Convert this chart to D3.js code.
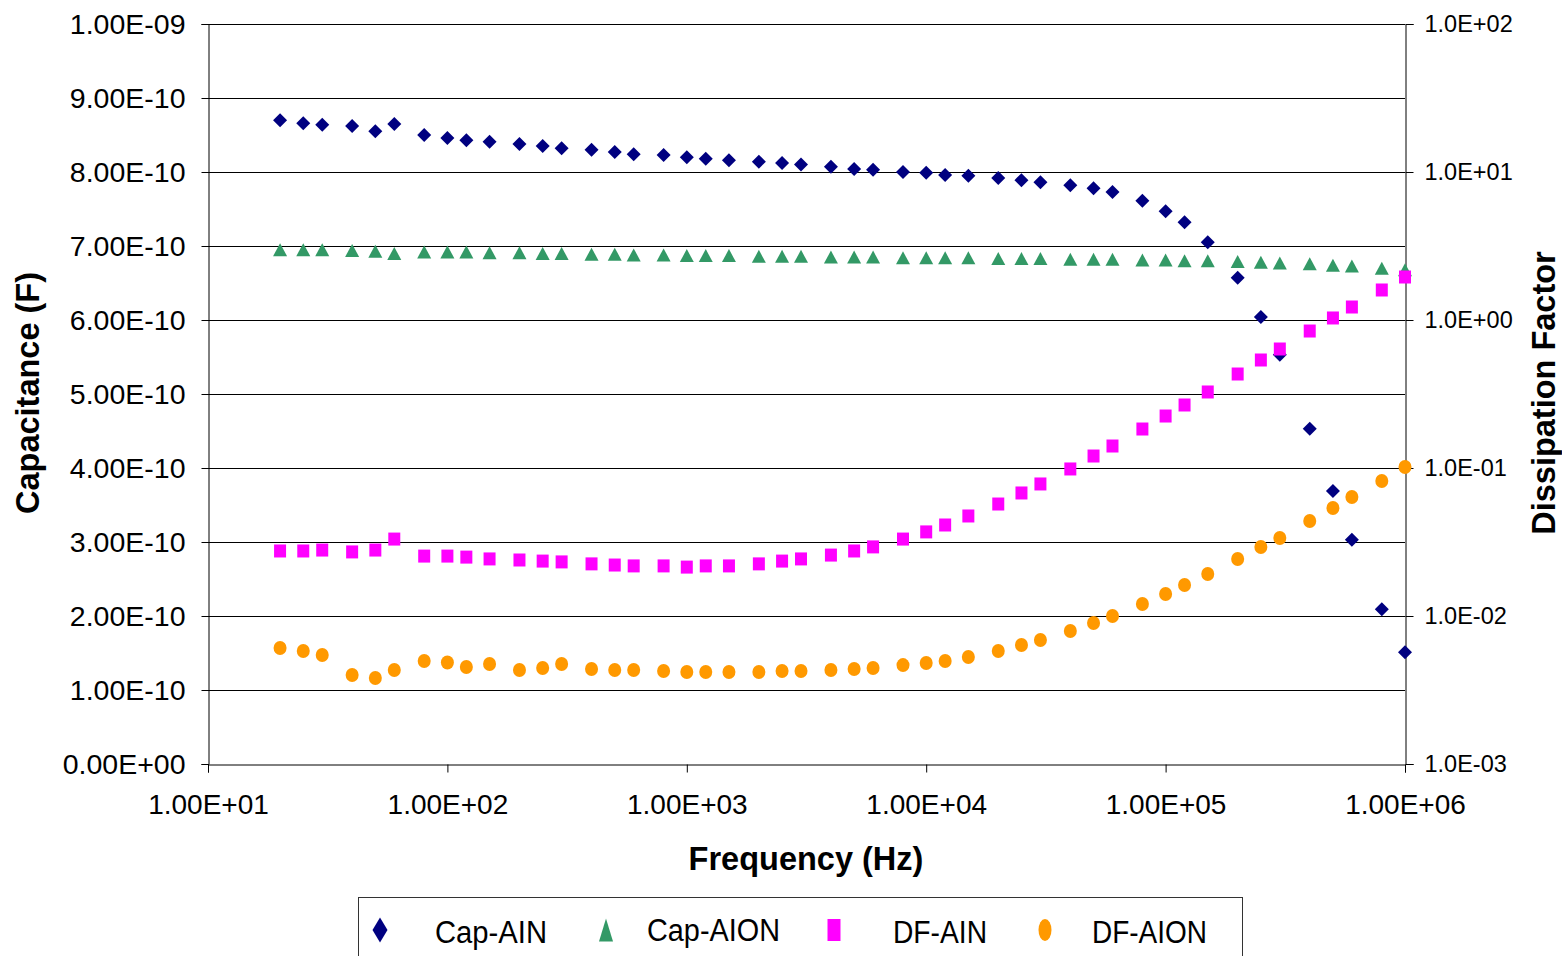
<!DOCTYPE html>
<html>
<head>
<meta charset="utf-8">
<script src="https://cdn.jsdelivr.net/npm/d3@7"></script>
<style>
  body { margin: 0; background: #fff; }
  svg { display: block; font-family: "Liberation Sans", Arial, sans-serif; }
</style>
</head>
<body>
<div id="chart"></div>
<script>
// Capacitance / dissipation factor vs frequency

const freq = [20, 25, 30, 40, 50, 60, 80, 100, 120, 150, 200, 250, 300, 400, 500, 600, 800,
  1000, 1200, 1500, 2000, 2500, 3000, 4000, 5000, 6000, 8000,
  10000, 12000, 15000, 20000, 25000, 30000, 40000, 50000, 60000, 80000,
  100000, 120000, 150000, 200000, 250000, 300000, 400000, 500000, 600000, 800000, 1000000];

// capacitance in units of 1e-10 F
const capAIN = [8.70, 8.66, 8.64, 8.62, 8.55, 8.65, 8.50, 8.46, 8.43, 8.41, 8.38, 8.35, 8.32, 8.30, 8.27, 8.24, 8.23,
  8.20, 8.18, 8.16, 8.14, 8.12, 8.10, 8.07, 8.04, 8.03, 8.00,
  7.99, 7.96, 7.95, 7.92, 7.89, 7.86, 7.82, 7.78, 7.73, 7.61,
  7.47, 7.32, 7.05, 6.57, 6.04, 5.53, 4.53, 3.69, 3.03, 2.09, 1.51];

const capAION = [6.95, 6.95, 6.95, 6.94, 6.93, 6.90, 6.92, 6.92, 6.92, 6.91, 6.91, 6.90, 6.90, 6.89, 6.89, 6.88, 6.88,
  6.87, 6.87, 6.87, 6.86, 6.86, 6.86, 6.85, 6.85, 6.85, 6.84,
  6.84, 6.84, 6.84, 6.83, 6.83, 6.83, 6.82, 6.82, 6.82, 6.81,
  6.81, 6.80, 6.80, 6.79, 6.78, 6.77, 6.76, 6.74, 6.73, 6.70, 6.68];

const dfAIN = [0.0275, 0.0275, 0.0279, 0.0271, 0.0279, 0.0331, 0.0254, 0.0254, 0.0250, 0.0243, 0.0239, 0.0235, 0.0232, 0.0225, 0.0221, 0.0218, 0.0218,
  0.0214, 0.0218, 0.0218, 0.0225, 0.0235, 0.0243, 0.0258, 0.0275, 0.0293, 0.0331,
  0.0370, 0.0412, 0.0474, 0.0571, 0.0678, 0.0780, 0.0985, 0.1205, 0.1408, 0.1834,
  0.2245, 0.2665, 0.3263, 0.4316, 0.5367, 0.6368, 0.8425, 1.032, 1.224, 1.595, 1.952];

const dfAION = [0.00608, 0.00580, 0.00545, 0.00399, 0.00381, 0.00432, 0.00497, 0.00485, 0.00452, 0.00474, 0.00432, 0.00445, 0.00474, 0.00438, 0.00432, 0.00432, 0.00425,
  0.00418, 0.00418, 0.00418, 0.00418, 0.00425, 0.00425, 0.00432, 0.00438, 0.00445, 0.00466,
  0.00481, 0.00497, 0.00528, 0.00580, 0.00637, 0.00688, 0.00792, 0.00897, 0.01000, 0.01205,
  0.01408, 0.01620, 0.01922, 0.02427, 0.02925, 0.03365, 0.04385, 0.05367, 0.06368, 0.08170, 0.1016];

const xTicks = [1e1, 1e2, 1e3, 1e4, 1e5, 1e6];
const capTicks = d3.range(0, 11).map(i => i * 1e-10);
const dfTicks = [1e-3, 1e-2, 1e-1, 1e0, 1e1, 1e2];

const seriesNames = ['Cap-AIN', 'Cap-AION', 'DF-AIN', 'DF-AION'];

// ---- layout
const W = 1562, H = 956;
const plotL = 208, plotR = 1405, plotT = 24, plotB = 764;

const svg = d3.select('#chart').append('svg')
  .attr('width', W).attr('height', H);

const x = d3.scaleLog().domain([1e1, 1e6]).range([plotL, plotR]);
const yCap = d3.scaleLinear().domain([0, 1e-9]).range([plotB, plotT]);
const yDf = d3.scaleLog().domain([1e-3, 1e2]).range([plotB, plotT]);

// gridlines (left axis)
svg.append('g')
  .selectAll('line')
  .data(capTicks.slice(1))
  .join('line')
  .attr('x1', plotL).attr('x2', plotR)
  .attr('y1', d => Math.round(yCap(d)) + 0.5)
  .attr('y2', d => Math.round(yCap(d)) + 0.5)
  .attr('stroke', '#000').attr('stroke-width', 1);

// axes
const fmtCap = d => {
  if (d === 0) return '0.00E+00';
  const e = Math.floor(Math.log10(d) + 1e-9);
  const m = d / Math.pow(10, e);
  return m.toFixed(2) + 'E' + (e < 0 ? '-' : '+') + String(Math.abs(e)).padStart(2, '0');
};
const fmtDf = d => {
  const e = Math.round(Math.log10(d));
  return '1.0E' + (e < 0 ? '-' : '+') + String(Math.abs(e)).padStart(2, '0');
};
const fmtX = d => {
  const e = Math.round(Math.log10(d));
  return '1.00E+' + String(e).padStart(2, '0');
};

const axL = svg.append('g')
  .attr('transform', `translate(${plotL + 0.5},0)`)
  .call(d3.axisLeft(yCap).tickValues(capTicks).tickFormat(fmtCap).tickSize(7).tickPadding(16));

const axR = svg.append('g')
  .attr('transform', `translate(${plotR + 0.5},0)`)
  .call(d3.axisRight(yDf).tickValues(dfTicks).tickFormat(fmtDf).tickSize(8).tickPadding(11));

const axB = svg.append('g')
  .attr('transform', `translate(0,${plotB + 0.5})`)
  .call(d3.axisBottom(x).tickValues(xTicks).tickFormat(fmtX).tickSize(8).tickPadding(22));

[axL, axR, axB].forEach(a => {
  a.select('.domain').attr('stroke', '#000').attr('stroke-width', 1);
  a.selectAll('.tick line').attr('stroke', '#000');
  a.selectAll('text').attr('fill', '#000').attr('font-family', '"Liberation Sans", Arial, sans-serif');
});
axL.selectAll('text').attr('font-size', 28.5);
axB.selectAll('text').attr('font-size', 28);
axR.selectAll('text').attr('font-size', 23.5);

// axis titles
svg.append('text')
  .attr('x', 806).attr('y', 870)
  .attr('text-anchor', 'middle')
  .attr('font-size', 32.5).attr('font-weight', 'bold')
  .text('Frequency (Hz)');

svg.append('text')
  .attr('transform', 'translate(39,393) rotate(-90)')
  .attr('text-anchor', 'middle')
  .attr('font-size', 32.5).attr('font-weight', 'bold')
  .text('Capacitance (F)');

svg.append('text')
  .attr('transform', 'translate(1555,393) rotate(-90)')
  .attr('text-anchor', 'middle')
  .attr('font-size', 32.5).attr('font-weight', 'bold')
  .text('Dissipation Factor');

// marker shapes
const shapes = {
  diamond: (w, h) => `M0,${-h / 2}L${w / 2},0L0,${h / 2}L${-w / 2},0Z`,
  triangle: (w, h) => `M0,${-h / 2}L${w / 2},${h / 2}L${-w / 2},${h / 2}Z`,
  square: (w, h) => `M${-w / 2},${-h / 2}h${w}v${h}h${-w}Z`,
  circle: (w, h) => `M${-w / 2},0a${w / 2},${h / 2} 0 1,0 ${w},0a${w / 2},${h / 2} 0 1,0 ${-w},0Z`
};

const series = [
  { name: seriesNames[0], vals: capAIN.map(v => v * 1e-10), y: yCap, shape: 'diamond', color: '#000080', w: 14, h: 14, lw: 15, lh: 25 },
  { name: seriesNames[1], vals: capAION.map(v => v * 1e-10), y: yCap, shape: 'triangle', color: '#339966', w: 14, h: 13, lw: 14, lh: 23 },
  { name: seriesNames[2], vals: dfAIN, y: yDf, shape: 'square', color: '#FF00FF', w: 12, h: 13, lw: 13, lh: 22 },
  { name: seriesNames[3], vals: dfAION, y: yDf, shape: 'circle', color: '#FF9900', w: 13, h: 14, lw: 13, lh: 22 }
];

series.forEach(s => {
  svg.append('g')
    .selectAll('path')
    .data(freq.map((f, i) => [f, s.vals[i]]))
    .join('path')
    .attr('transform', d => `translate(${x(d[0])},${s.y(d[1])})`)
    .attr('d', shapes[s.shape](s.w, s.h))
    .attr('fill', s.color);
});

// legend
const legend = svg.append('g');
legend.append('rect')
  .attr('x', 358.5).attr('y', 897.5)
  .attr('width', 884).attr('height', 80)
  .attr('fill', '#fff').attr('stroke', '#333').attr('stroke-width', 1);

const legMarkX = [380, 606, 834, 1045];
const legTextX = [435, 647, 893, 1092];
const legTextW = [112, 133, 94, 115];

series.forEach((s, i) => {
  legend.append('path')
    .attr('transform', `translate(${legMarkX[i]},930)`)
    .attr('d', shapes[s.shape](s.lw, s.lh))
    .attr('fill', s.color);
  legend.append('text')
    .attr('x', legTextX[i]).attr('y', i === 1 ? 941 : 943)
    .attr('font-size', 31)
    .attr('textLength', legTextW[i])
    .attr('lengthAdjust', 'spacingAndGlyphs')
    .attr('fill', '#000')
    .text(s.name);
});
</script>
</body>
</html>
